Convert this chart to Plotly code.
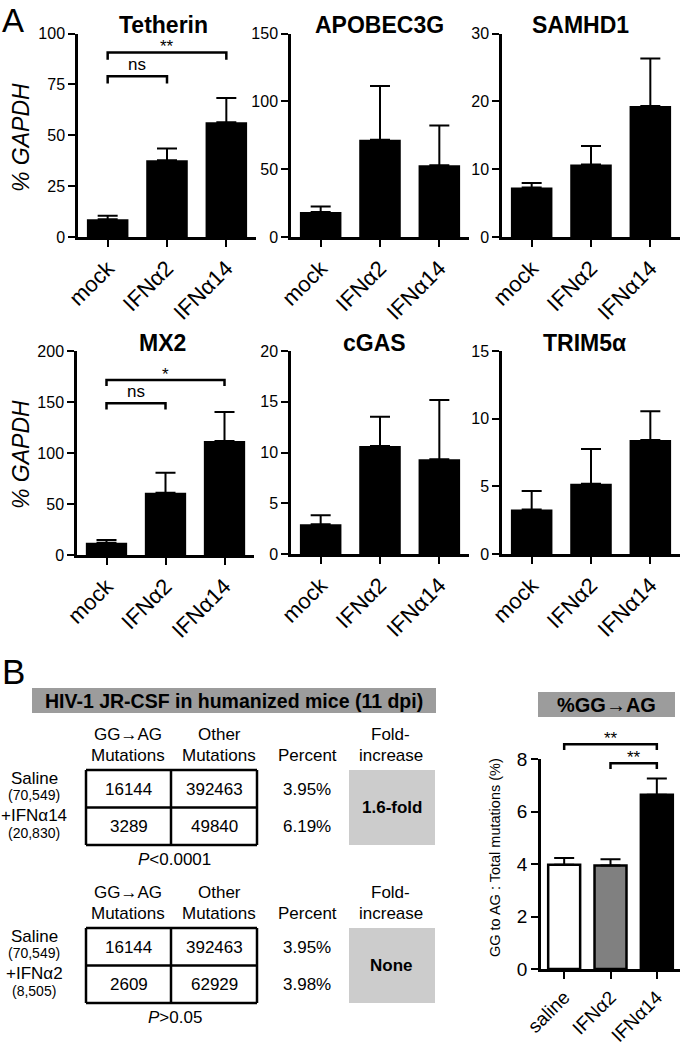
import plotly.graph_objects as go

W, H = 680, 1046
FONT = "Liberation Sans, Arial, Helvetica, sans-serif"

# ---------------- data ----------------
cats = ["mock", "IFNα2", "IFNα14"]

tetherin_mean = [8.7, 37.7, 56.4]
tetherin_sem = [1.8, 5.8, 11.9]
apobec_mean = [18.4, 71.6, 52.9]
apobec_sem = [4.1, 39.7, 29.2]
samhd1_mean = [7.3, 10.7, 19.3]
samhd1_sem = [0.65, 2.7, 7.0]
mx2_mean = [12.1, 61.1, 111.8]
mx2_sem = [2.6, 19.6, 28.4]
cgas_mean = [2.92, 10.64, 9.33]
cgas_sem = [0.89, 2.89, 5.84]
trim_mean = [3.28, 5.2, 8.42]
trim_sem = [1.38, 2.56, 2.12]

tetherin_ticks = [0, 25, 50, 75, 100]
apobec_ticks = [0, 50, 100, 150]
samhd1_ticks = [0, 10, 20, 30]
mx2_ticks = [0, 50, 100, 150, 200]
cgas_ticks = [0, 5, 10, 15, 20]
trim_ticks = [0, 5, 10, 15]

tetherin_brackets = [("mock", "IFNα14", 90.7, "**"), ("mock", "IFNα2", 79.0, "ns")]
mx2_brackets = [("mock", "IFNα14", 171.6, "*"), ("mock", "IFNα2", 148.7, "ns")]

gg_cats = ["saline", "IFNα2", "IFNα14"]
gg_mean = [3.97, 3.94, 6.64]
gg_sem = [0.26, 0.24, 0.62]
gg_ticks = [0, 2, 4, 6, 8]
gg_colors = ["white", "#808080", "black"]
gg_brackets = [("saline", "IFNα14", 8.56, "**"), ("IFNα2", "IFNα14", 7.84, "**")]

t1_labels = ["Saline", "+IFNα14"]
t1_n = ["(70,549)", "(20,830)"]
t1_gg = [16144, 3289]
t1_other = [392463, 49840]
t1_pct = ["3.95%", "6.19%"]
t1_fold = "1.6-fold"
t1_p = "<i>P</i><0.0001"

t2_labels = ["Saline", "+IFNα2"]
t2_n = ["(70,549)", "(8,505)"]
t2_gg = [16144, 2609]
t2_other = [392463, 62929]
t2_pct = ["3.95%", "3.98%"]
t2_fold = "None"
t2_p = "<i>P</i>>0.05"

# ---------------- helpers ----------------
def PX(x):
    return x / W

def PY(y):
    return 1 - y / H

fig = go.Figure()
layout = dict(
    width=W, height=H, margin=dict(l=0, r=0, t=0, b=0),
    paper_bgcolor="white", plot_bgcolor="rgba(0,0,0,0)",
    template="none", showlegend=False,
    font=dict(family=FONT, color="black"),
)
annotations = []
shapes = []

def ann(text, x, y, size, bold=False, xanchor="center", yanchor="middle", angle=0, xref="paper", yref="paper", color="black"):
    if bold:
        text = "<b>" + text + "</b>"
    annotations.append(dict(
        text=text, x=x, y=y, xref=xref, yref=yref, showarrow=False,
        xanchor=xanchor, yanchor=yanchor, textangle=angle,
        font=dict(size=size, family=FONT, color=color),
    ))

def rect(x0, y0, x1, y1, fill=None, lw=0):
    shapes.append(dict(
        type="rect", xref="paper", yref="paper",
        x0=PX(x0), x1=PX(x1), y0=PY(y0), y1=PY(y1),
        fillcolor=fill if fill else "rgba(0,0,0,0)",
        line=dict(width=lw, color="black"), layer="below" if fill and lw == 0 else "above",
    ))

def hline(x0, x1, y, lw=2.5):
    shapes.append(dict(type="line", xref="paper", yref="paper",
                       x0=PX(x0), x1=PX(x1), y0=PY(y), y1=PY(y),
                       line=dict(width=lw, color="black")))

def vline(x, y0, y1, lw=2.5):
    shapes.append(dict(type="line", xref="paper", yref="paper",
                       x0=PX(x), x1=PX(x), y0=PY(y0), y1=PY(y1),
                       line=dict(width=lw, color="black")))

def axes(i, xdom, ydom, yrange, yticks, xcats, tickfont_y=16, tickfont_x=22):
    xs = "" if i == 1 else str(i)
    layout["xaxis" + xs] = dict(
        domain=[PX(xdom[0]), PX(xdom[1])], anchor="y" + xs,
        type="category", categoryorder="array", categoryarray=xcats,
        range=[-0.5, 2.5], showline=True, linewidth=2.5, linecolor="black",
        ticks="outside", ticklen=7, tickwidth=2, tickcolor="black",
        tickangle=-45, tickfont=dict(size=tickfont_x, family=FONT, color="black"),
        showgrid=False, zeroline=False, automargin=False, fixedrange=True,
    )
    layout["yaxis" + xs] = dict(
        domain=[PY(ydom[1]), PY(ydom[0])], anchor="x" + xs,
        range=yrange, tickvals=yticks, showline=True, linewidth=2.5, linecolor="black",
        ticks="outside", ticklen=7, tickwidth=2, tickcolor="black",
        tickfont=dict(size=tickfont_y, family=FONT, color="black"),
        showgrid=False, zeroline=False, automargin=False, fixedrange=True,
    )
    return "x" + xs, "y" + xs

def bars(xa, ya, xcats, mean, sem, colors="black", width=0.7, lw=0):
    fig.add_trace(go.Bar(
        x=xcats, y=mean, xaxis=xa, yaxis=ya, width=width,
        marker=dict(color=colors, line=dict(color="black", width=lw)),
        error_y=dict(type="data", symmetric=False, array=sem, arrayminus=[0] * len(sem),
                     color="black", thickness=2, width=10),
        hoverinfo="skip",
    ))

def brackets(xa, ya, xcats, blist, drop, tsize=17):
    for a, b, yv, txt in blist:
        fig.add_trace(go.Scatter(
            x=[a, a, b, b], y=[yv - drop, yv, yv, yv - drop], xaxis=xa, yaxis=ya,
            mode="lines", line=dict(color="black", width=2.5), hoverinfo="skip",
            cliponaxis=False,
        ))
        mid = (xcats.index(a) + xcats.index(b)) / 2
        shift = -6 if "*" in txt else 0
        annotations.append(dict(
            text=txt, x=mid, y=yv, xref=xa, yref=ya, showarrow=False,
            xanchor="center", yanchor="bottom", yshift=shift,
            font=dict(size=tsize, family=FONT, color="black"),
        ))

# ---------------- panel A ----------------
panels = [
    ("Tetherin", tetherin_mean, tetherin_sem, [0, 100], tetherin_ticks, (78, 256), (33.5, 237), 163, 25),
    ("APOBEC3G", apobec_mean, apobec_sem, [0, 150], apobec_ticks, (291, 469), (33.5, 237), 379, 25),
    ("SAMHD1", samhd1_mean, samhd1_sem, [0, 30], samhd1_ticks, (502, 680), (33.5, 237), 580, 25),
    ("MX2", mx2_mean, mx2_sem, [0, 200], mx2_ticks, (77, 254), (351, 555), 162, 343),
    ("cGAS", cgas_mean, cgas_sem, [0, 20], cgas_ticks, (291, 469), (351, 554), 374, 343),
    ("TRIM5α", trim_mean, trim_sem, [0, 15], trim_ticks, (502, 680), (351, 554), 584, 343),
]
axmap = {}
for i, (name, mean, sem, yr, yt, xd, yd, tx, ty) in enumerate(panels, start=1):
    xa, ya = axes(i, xd, yd, yr, yt, cats)
    axmap[name] = (xa, ya)
    bars(xa, ya, cats, mean, sem)
    ann(name, PX(tx), PY(ty), 23, bold=True)

brackets(*axmap["Tetherin"], cats, tetherin_brackets, 3.6, tsize=17)
brackets(*axmap["MX2"], cats, mx2_brackets, 6.0, tsize=17)

ann("<i>% GAPDH</i>", PX(21), PY(138), 23, angle=-90)
ann("<i>% GAPDH</i>", PX(21), PY(455), 23, angle=-90)
ann("A", PX(0), PY(0), 33, xanchor="left", yanchor="top")

# ---------------- panel B right: bar chart ----------------
xa7, ya7 = axes(7, (541, 680), (759, 969), [0, 8], gg_ticks, gg_cats, tickfont_y=19, tickfont_x=19)
bars(xa7, ya7, gg_cats, gg_mean, gg_sem, colors=gg_colors, width=0.69, lw=2.5)
# invisible helper axis sharing the same scale but taller, so the brackets above 8 are not clipped
unit = (969 - 759) / 8.0
layout["yaxis8"] = dict(domain=[PY(969), PY(969 - 9.2 * unit)], anchor="x7", range=[0, 9.2],
                        visible=False, fixedrange=True)
brackets("x7", "y8", gg_cats, gg_brackets, 0.22, tsize=17)
ann("GG to AG : Total mutations (%)", PX(495), PY(858), 14.5, angle=-90)
rect(538, 692, 675, 717, fill="#9c9c9c")
ann("%GG→AG", PX(606.5), PY(705), 20, bold=True)

# ---------------- panel B left: tables ----------------
ann("B", PX(0), PY(671), 35, xanchor="left", yanchor="middle")
rect(32, 688, 436, 713, fill="#9c9c9c")
ann("HIV-1 JR-CSF in humanized mice (11 dpi)", PX(234), PY(701), 19.5, bold=True)

def table(top, labels, ns, gg, other, pct, fold, ptxt):
    # top: y of box top (px)
    h1, h2 = top - 36, top - 15
    ann("GG→AG", PX(128), PY(h1), 17)
    ann("Mutations", PX(128), PY(h2), 17)
    ann("Other", PX(219), PY(h1), 17)
    ann("Mutations", PX(219), PY(h2), 17)
    ann("Percent", PX(307), PY(h2), 17)
    ann("Fold-", PX(391), PY(h1), 17)
    ann("increase", PX(391), PY(h2), 17)
    x0, xm, x1 = 86, 171, 257
    y0, y1 = top, top + 75
    ym = (y0 + y1) / 2
    rect(349, y0, 435, y1, fill="#cccccc")
    rows = [y0 + 19, ym + 19]
    for k in range(2):
        ann(f"{gg[k]}", PX((x0 + xm) / 2), PY(rows[k]), 17)
        ann(f"{other[k]}", PX((xm + x1) / 2), PY(rows[k]), 17)
        ann(pct[k], PX(307), PY(rows[k]), 17)
        ann(labels[k], PX(34), PY(rows[k] - 11), 17)
        ann(ns[k], PX(34), PY(rows[k] + 6), 14)
    hline(x0, x1, y0)
    hline(x0, x1, y1)
    hline(x0, x1, ym)
    vline(x0, y0, y1)
    vline(x1, y0, y1)
    vline(xm, y0, y1)
    ann(fold, PX(392), PY(ym), 17, bold=True)
    ann(ptxt, PX(175), PY(y1 + 14), 17)

table(770, t1_labels, t1_n, t1_gg, t1_other, t1_pct, t1_fold, t1_p)
table(928, t2_labels, t2_n, t2_gg, t2_other, t2_pct, t2_fold, t2_p)

layout["annotations"] = annotations
layout["shapes"] = shapes
fig.update_layout(**layout)
fig.write_html("out.html", config={"displayModeBar": False},
               post_script="document.body.style.margin='0px';document.body.style.overflow='hidden';")
